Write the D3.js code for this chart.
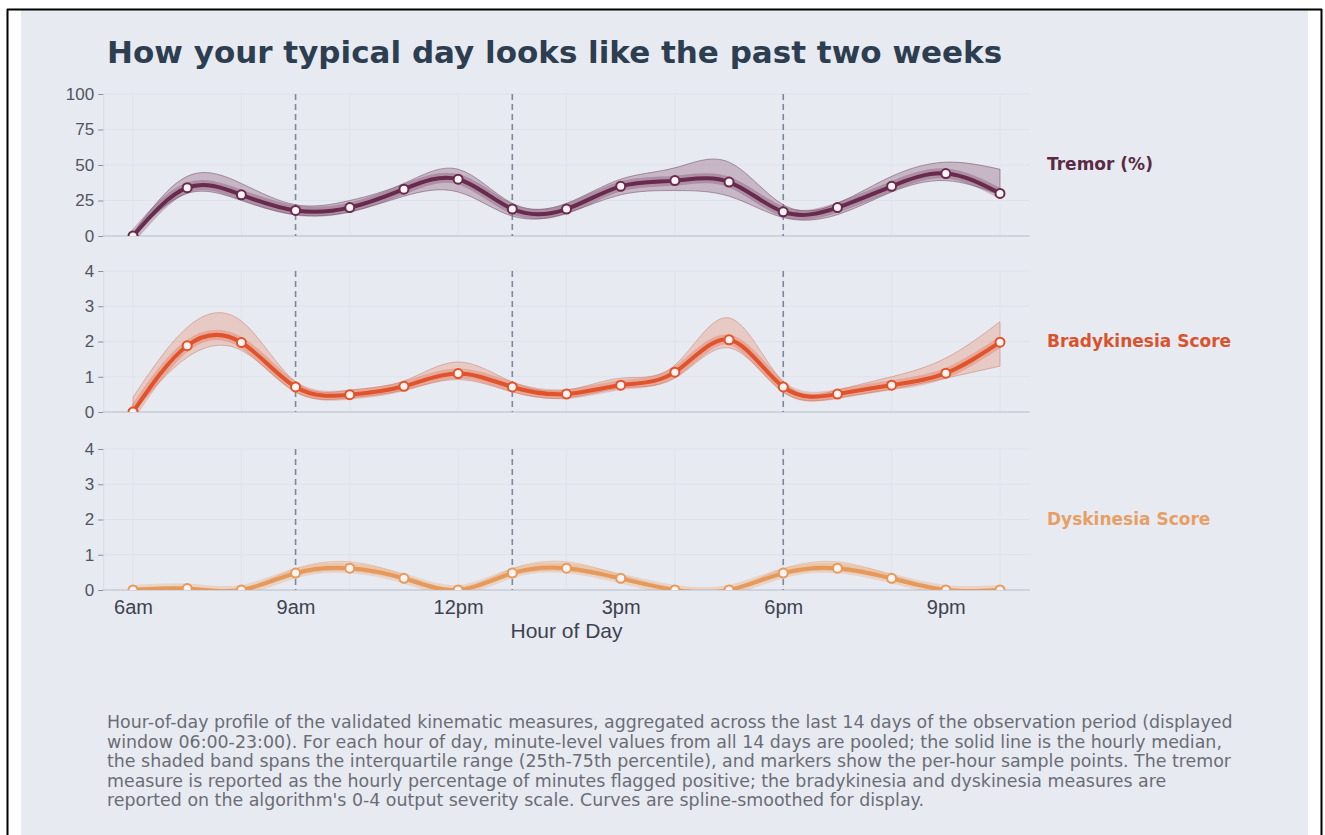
<!DOCTYPE html>
<html><head><meta charset="utf-8">
<script src="https://cdn.jsdelivr.net/npm/d3@7"></script>
<style>
html,body{margin:0;padding:0;background:#fff;}
svg{display:block;}
</style></head><body>
<svg id="chart" width="1325" height="835"></svg>
<script>
// ---------------- DATA ----------------
const hours = [6, 7, 8, 9, 10, 11, 12, 13, 14, 15, 16, 17, 18, 19, 20, 21, 22];
const hourTicks = [6, 9, 12, 15, 18, 21];
const hourTickLabels = ["6am", "9am", "12pm", "3pm", "6pm", "9pm"];
const gridHours = [6, 8, 10, 12, 14, 16, 18, 20, 22];
const doseHours = [9, 13, 18];

const tremorMedian = [0, 34, 29, 18, 20, 33, 40, 19, 19, 35, 39, 38, 17, 20, 35, 44, 30];
const tremorQ25    = [0, 30, 25, 15, 17, 28, 31, 14, 16, 29, 32, 28, 13, 15, 31, 39, 29];
const tremorQ75    = [2, 42, 37, 22, 25, 37, 47, 23, 23, 40, 48, 52, 22, 23, 42, 52, 47];

const bradyMedian = [0, 1.88, 1.97, 0.71, 0.49, 0.73, 1.09, 0.71, 0.51, 0.76, 1.13, 2.05, 0.71, 0.51, 0.76, 1.1, 1.98];
const bradyQ25    = [0, 1.55, 1.75, 0.57, 0.40, 0.62, 0.92, 0.57, 0.40, 0.68, 0.96, 1.82, 0.57, 0.40, 0.65, 0.96, 1.30];
const bradyQ75    = [0.42, 2.4, 2.58, 0.85, 0.62, 0.88, 1.42, 0.85, 0.62, 0.96, 1.33, 2.67, 0.85, 0.62, 1.0, 1.53, 2.56];

const dyskMedian = [0, 0.04, 0, 0.48, 0.62, 0.33, 0, 0.48, 0.62, 0.33, 0, 0, 0.48, 0.62, 0.33, 0, 0];
const dyskQ25    = [0, 0.01, 0, 0.42, 0.55, 0.28, 0, 0.42, 0.55, 0.28, 0, 0, 0.42, 0.55, 0.28, 0, 0];
const dyskQ75    = [0.05, 0.07, 0.04, 0.60, 0.80, 0.42, 0.05, 0.60, 0.80, 0.42, 0.05, 0.04, 0.60, 0.80, 0.42, 0.05, 0.04];

const seriesNames = ["Tremor (%)", "Bradykinesia Score", "Dyskinesia Score"];
const yTicksTremor = [0, 25, 50, 75, 100];
const yTicksScore = [0, 1, 2, 3, 4];

const titleText = "How your typical day looks like the past two weeks";
const xAxisTitle = "Hour of Day";
const captionLines = [
  "Hour-of-day profile of the validated kinematic measures, aggregated across the last 14 days of the observation period (displayed",
  "window 06:00-23:00). For each hour of day, minute-level values from all 14 days are pooled; the solid line is the hourly median,",
  "the shaded band spans the interquartile range (25th-75th percentile), and markers show the per-hour sample points. The tremor",
  "measure is reported as the hourly percentage of minutes flagged positive; the bradykinesia and dyskinesia measures are",
  "reported on the algorithm's 0-4 output severity scale. Curves are spline-smoothed for display."
];

// ---------------- LAYOUT / STYLE ----------------
const svg = d3.select("#chart");
const BG = "#e8eaf2";

svg.append("rect").attr("x", 21).attr("y", 10).attr("width", 1287).attr("height", 825).attr("fill", BG);
svg.append("line").attr("x1", 7).attr("x2", 1322).attr("y1", 9.5).attr("y2", 9.5).attr("stroke", "#000").attr("stroke-width", 2);
svg.append("line").attr("x1", 7.5).attr("x2", 7.5).attr("y1", 9).attr("y2", 835).attr("stroke", "#000").attr("stroke-width", 2);
svg.append("line").attr("x1", 1321.5).attr("x2", 1321.5).attr("y1", 9).attr("y2", 835).attr("stroke", "#000").attr("stroke-width", 2);

svg.append("text").attr("x", 107).attr("y", 63)
  .attr("font-family", "DejaVu Sans").attr("font-weight", "bold").attr("font-size", 31)
  .attr("fill", "#2c3e50").text(titleText);

const x = d3.scaleLinear().domain([5.45, 22.55]).range([103.2, 1029.8]);

const panels = [
  { top: 94, bottom: 236, domain: [0, 100], ticks: yTicksTremor, med: tremorMedian, lo: tremorQ25, hi: tremorQ75,
    color: "#682a4d", band: "#8a5675", bandEdge: "#7a5a70", label: "#5b2a45", name: seriesNames[0], labelY: 164 },
  { top: 271, bottom: 412, domain: [0, 4], ticks: yTicksScore, med: bradyMedian, lo: bradyQ25, hi: bradyQ75,
    color: "#e0532b", band: "#e88f72", bandEdge: "#c98a7a", label: "#d9532c", name: seriesNames[1], labelY: 341 },
  { top: 449, bottom: 590, domain: [0, 4], ticks: yTicksScore, med: dyskMedian, lo: dyskQ25, hi: dyskQ75,
    color: "#e6995a", band: "#f0b98a", bandEdge: "#e0b090", label: "#e6a066", name: seriesNames[2], labelY: 519 }
];

const defs = svg.append("defs");

panels.forEach((p, i) => {
  const y = d3.scaleLinear().domain(p.domain).range([p.bottom, p.top]);
  const g = svg.append("g");
  const x0 = x.range()[0], x1 = x.range()[1];

  // grid
  g.selectAll(".hg").data(p.ticks.slice(1)).join("line")
    .attr("x1", x0).attr("x2", x1).attr("y1", d => y(d)).attr("y2", d => y(d))
    .attr("stroke", "#dfe2eb").attr("stroke-width", 1);
  g.selectAll(".vg").data(gridHours).join("line")
    .attr("x1", d => x(d)).attr("x2", d => x(d)).attr("y1", p.top).attr("y2", p.bottom)
    .attr("stroke", "#e0e3ec").attr("stroke-width", 1);
  g.append("line").attr("x1", x0 + 0.5).attr("x2", x0 + 0.5).attr("y1", p.top).attr("y2", p.bottom)
    .attr("stroke", "#d8dbe5").attr("stroke-width", 1);

  // y axis ticks + labels
  const yAxis = d3.axisLeft(y).tickValues(p.ticks).tickSize(5).tickPadding(4).tickFormat(d3.format("d"));
  const ya = g.append("g").attr("transform", `translate(${x0},0)`).call(yAxis);
  ya.select(".domain").remove();
  ya.selectAll(".tick line").attr("stroke", "#8a8f9a");
  ya.selectAll(".tick text").attr("font-family", "Liberation Sans, Arial, sans-serif")
    .attr("font-size", 17).attr("fill", "#50555f");

  // zero line
  g.append("line").attr("x1", x0).attr("x2", x1).attr("y1", y(0)).attr("y2", y(0))
    .attr("stroke", "#c6cbd7").attr("stroke-width", 1.5);

  // dose dashed lines
  g.selectAll(".dose").data(doseHours).join("line")
    .attr("x1", d => x(d)).attr("x2", d => x(d)).attr("y1", p.top).attr("y2", p.bottom)
    .attr("stroke", "#7d889a").attr("stroke-width", 1.6).attr("stroke-dasharray", "6,4");

  // clip
  const cid = "clip" + i;
  defs.append("clipPath").attr("id", cid).append("rect")
    .attr("x", x0).attr("y", p.top - 10).attr("width", x1 - x0).attr("height", p.bottom - p.top + 10);
  const pg = g.append("g").attr("clip-path", `url(#${cid})`);

  const rows = hours.map((h, k) => ({ h, m: p.med[k], lo: p.lo[k], hi: p.hi[k] }));
  const area = d3.area().x(d => x(d.h)).y0(d => y(d.lo)).y1(d => y(d.hi)).curve(d3.curveNatural);
  const line = d3.line().x(d => x(d.h)).y(d => y(d.m)).curve(d3.curveNatural);

  pg.append("path").datum(rows).attr("d", area)
    .attr("fill", p.band).attr("fill-opacity", 0.35)
    .attr("stroke", p.bandEdge).attr("stroke-opacity", 0.6).attr("stroke-width", 1);
  pg.append("path").datum(rows).attr("d", line)
    .attr("fill", "none").attr("stroke", p.color).attr("stroke-opacity", 0.28).attr("stroke-width", 10)
    .attr("stroke-linecap", "round");
  pg.append("path").datum(rows).attr("d", line)
    .attr("fill", "none").attr("stroke", p.color).attr("stroke-width", 4).attr("stroke-linecap", "round");
  pg.selectAll(".pt").data(rows).join("circle")
    .attr("cx", d => x(d.h)).attr("cy", d => y(d.m)).attr("r", 4.5)
    .attr("fill", "#fff3f3").attr("stroke", p.color).attr("stroke-width", 2);

  // right label
  svg.append("text").attr("x", 1047).attr("y", p.labelY).attr("dy", "0.35em")
    .attr("font-family", "DejaVu Sans").attr("font-weight", "bold").attr("font-size", 17)
    .attr("fill", p.label).text(p.name);

  if (i === panels.length - 1) {
    const xAxis = d3.axisBottom(x).tickValues(hourTicks).tickSize(0).tickPadding(10)
      .tickFormat((d, k) => hourTickLabels[k]);
    const xa = svg.append("g").attr("transform", `translate(0,${p.bottom})`).call(xAxis);
    xa.select(".domain").remove();
    xa.selectAll(".tick text").attr("font-family", "Liberation Sans, Arial, sans-serif")
      .attr("font-size", 20).attr("fill", "#3d4350");
    svg.append("text").attr("x", (x0 + x1) / 2).attr("y", p.bottom + 48).attr("text-anchor", "middle")
      .attr("font-family", "Liberation Sans, Arial, sans-serif").attr("font-size", 21)
      .attr("fill", "#3d4350").text(xAxisTitle);
  }
});

// caption
const cap = svg.append("text").attr("font-family", "DejaVu Sans").attr("font-size", 17.4).attr("fill", "#6a6d75");
captionLines.forEach((t, k) => {
  cap.append("tspan").attr("x", 107).attr("y", 728 + k * 19.5).text(t);
});
</script>
</body></html>
